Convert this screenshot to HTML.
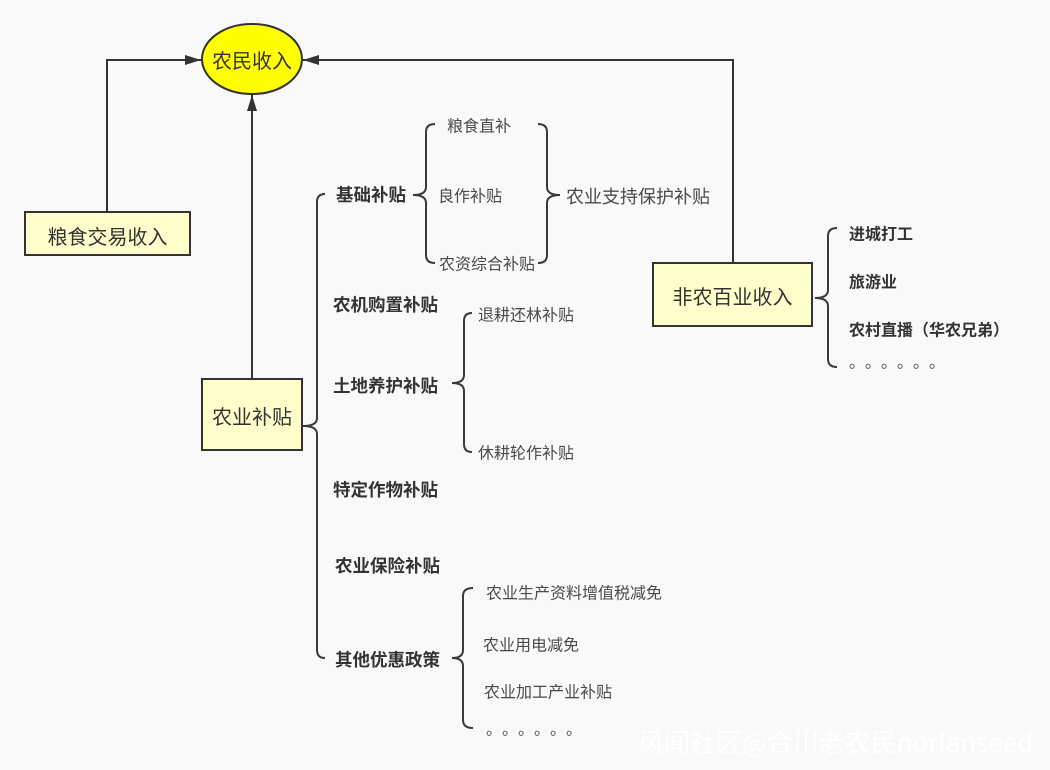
<!DOCTYPE html>
<html>
<head>
<meta charset="utf-8">
<style>
html,body{margin:0;padding:0;background:#f9f9f9;}
svg{display:block;}
text{font-family:"Liberation Sans","Noto Sans CJK SC",sans-serif;}
.b{font-weight:bold;font-size:17.5px;fill:#333;}
.r{font-size:16px;fill:#4a4a4a;}
.bx{font-size:20px;fill:#333;}
.rb{font-weight:bold;font-size:16px;fill:#333;}
.d{font-family:"Noto Sans CJK SC","WenQuanYi Zen Hei",sans-serif;font-size:16px;fill:#4a4a4a;}
</style>
</head>
<body>
<svg width="1050" height="770" viewBox="0 0 1050 770" xmlns="http://www.w3.org/2000/svg">
<rect width="1050" height="770" fill="#f9f9f9"/>
<defs>
<marker id="ah" markerWidth="16" markerHeight="10" refX="16" refY="5" orient="auto" markerUnits="userSpaceOnUse">
<path d="M0,0 L16,5 L0,10 Z" fill="#333"/>
</marker>
</defs>

<!-- connectors -->
<path d="M107,212 L107,60 L201,60" fill="none" stroke="#333" stroke-width="2" marker-end="url(#ah)"/>
<path d="M252,379 L252,95" fill="none" stroke="#333" stroke-width="2" marker-end="url(#ah)"/>
<path d="M733,263 L733,60 L303,60" fill="none" stroke="#333" stroke-width="2" marker-end="url(#ah)"/>

<!-- ellipse -->
<ellipse cx="252" cy="59" rx="50" ry="35" fill="#ffff00" stroke="#333" stroke-width="2"/>
<text class="bx" x="252" y="62" text-anchor="middle" dominant-baseline="central">农民收入</text>

<!-- boxes -->
<rect x="25" y="212" width="165" height="43" fill="#ffffcc" stroke="#333" stroke-width="2"/>
<text class="bx" x="107.5" y="238" text-anchor="middle" dominant-baseline="central">粮食交易收入</text>

<rect x="202" y="379" width="100" height="71" fill="#ffffcc" stroke="#333" stroke-width="2"/>
<text class="bx" x="252" y="418" text-anchor="middle" dominant-baseline="central">农业补贴</text>

<rect x="653" y="263" width="159" height="63" fill="#ffffcc" stroke="#333" stroke-width="2"/>
<text class="bx" x="732.5" y="298" text-anchor="middle" dominant-baseline="central">非农百业收入</text>

<!-- braces -->
<g fill="none" stroke="#3a3a3a" stroke-width="2">
<path d="M325,194 Q317,194 317,202 L317,418 Q317,426 303,426 Q317,426 317,434 L317,650 Q317,658 325,658"/>
<path d="M435,124 Q426,124 426,132 L426,187 Q426,195 413,195 Q426,195 426,203 L426,255 Q426,263 435,263"/>
<path d="M538,124 Q547,124 547,132 L547,187 Q547,195 560,195 Q547,195 547,203 L547,255 Q547,263 538,263"/>
<path d="M472,313 Q464,313 464,321 L464,375 Q464,383 452,383 Q464,383 464,391 L464,444 Q464,452 472,452"/>
<path d="M473,588 Q463,588 463,596 L463,650 Q463,658 452,658 Q463,658 463,666 L463,720 Q463,728 473,728"/>
<path d="M837,228 Q828,228 828,236 L828,290 Q828,298 815,298 Q828,298 828,306 L828,359 Q828,367 837,367"/>
</g>

<!-- bold labels -->
<text class="b" x="336" y="195" dominant-baseline="central">基础补贴</text>
<text class="b" x="333" y="305" dominant-baseline="central">农机购置补贴</text>
<text class="b" x="333" y="386" dominant-baseline="central">土地养护补贴</text>
<text class="b" x="333" y="490" dominant-baseline="central">特定作物补贴</text>
<text class="b" x="335" y="566" dominant-baseline="central">农业保险补贴</text>
<text class="b" x="335" y="660" dominant-baseline="central">其他优惠政策</text>

<!-- regular labels -->
<text class="r" x="447" y="127" dominant-baseline="central">粮食直补</text>
<text class="r" x="438" y="197" dominant-baseline="central">良作补贴</text>
<text class="r" x="439" y="265" dominant-baseline="central">农资综合补贴</text>
<text class="r" x="566" y="197" dominant-baseline="central" style="font-size:18px">农业支持保护补贴</text>
<text class="r" x="478" y="316" dominant-baseline="central">退耕还林补贴</text>
<text class="r" x="478" y="454" dominant-baseline="central">休耕轮作补贴</text>
<text class="r" x="486" y="594" dominant-baseline="central">农业生产资料增值税减免</text>
<text class="r" x="483" y="646" dominant-baseline="central">农业用电减免</text>
<text class="r" x="484" y="693" dominant-baseline="central">农业加工产业补贴</text>

<!-- bottom ellipsis dots -->
<g class="d" text-anchor="middle" dominant-baseline="central">
<text x="494" y="730">。</text>
<text x="510" y="730">。</text>
<text x="526" y="730">。</text>
<text x="542" y="730">。</text>
<text x="558" y="730">。</text>
<text x="574" y="730">。</text>
</g>

<!-- right side labels -->
<text class="rb" x="849" y="235" dominant-baseline="central">进城打工</text>
<text class="rb" x="849" y="283" dominant-baseline="central">旅游业</text>
<text class="rb" x="849" y="331" dominant-baseline="central">农村直播（华农兄弟）</text>
<g class="d" text-anchor="middle" dominant-baseline="central">
<text x="857" y="363">。</text>
<text x="873" y="363">。</text>
<text x="889" y="363">。</text>
<text x="905" y="363">。</text>
<text x="921" y="363">。</text>
<text x="937" y="363">。</text>
</g>

<!-- watermark -->
<text x="638" y="752" style="font-family:'Noto Sans CJK SC',sans-serif;font-size:26px;fill:#ffffff">风闻社区@合川老农民norlanseed</text>
</svg>
</body>
</html>
